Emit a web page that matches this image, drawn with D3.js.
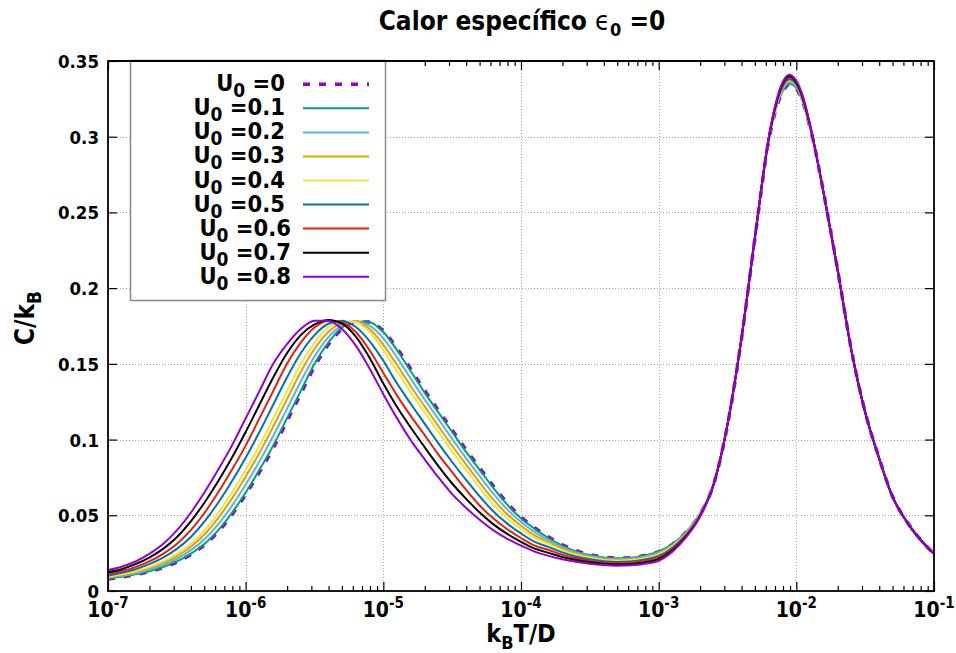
<!DOCTYPE html>
<html>
<head>
<meta charset="utf-8">
<script src="https://cdn.jsdelivr.net/npm/d3@7"></script>
<style>
  body { margin: 0; background: #fff; }
  svg { display: block; }
  text { font-family: "DejaVu Sans", sans-serif; font-weight: bold; fill: #000; }
</style>
</head>
<body>
<div id="chart"></div>
<script>
// log10(kB T / D) sampling grid
const log10T = [
  -7.0, -6.9, -6.8, -6.7, -6.6, -6.5, -6.4, -6.3, -6.2, -6.1,
  -6.0, -5.9, -5.8, -5.7, -5.6, -5.5, -5.4, -5.3, -5.2, -5.1,
  -5.0, -4.9, -4.8, -4.7, -4.6, -4.5, -4.4, -4.3, -4.2, -4.1,
  -4.0, -3.9, -3.8, -3.7, -3.6, -3.5, -3.4, -3.3, -3.2, -3.1,
  -3.0, -2.9, -2.8, -2.7, -2.6, -2.5, -2.4, -2.3, -2.2,
  -2.15, -2.1, -2.05, -2.0, -1.95, -1.9,
  -1.8, -1.7, -1.6, -1.5, -1.4, -1.3, -1.2, -1.1, -1.0
];

// C / kB for each U0
const cU00 = [
  0.0079, 0.0092, 0.0108, 0.0128, 0.0155, 0.0191, 0.0240, 0.0304, 0.0391, 0.0504,
  0.0637, 0.0785, 0.0944, 0.1122, 0.1302, 0.1482, 0.1626, 0.1730, 0.1776, 0.1776,
  0.1716, 0.1602, 0.1464, 0.1324, 0.1193, 0.1063, 0.0933, 0.0812, 0.0692, 0.0581,
  0.0489, 0.0417, 0.0356, 0.0305, 0.0266, 0.0240, 0.0224, 0.0217, 0.0220, 0.0234,
  0.0260, 0.0308, 0.0388, 0.0508, 0.0708, 0.1095, 0.1655, 0.2335, 0.2975,
  0.3175, 0.3295, 0.3345, 0.3318, 0.3222, 0.3062,
  0.2622, 0.2122, 0.1592, 0.1182, 0.0882, 0.0622, 0.0462, 0.0342, 0.0246
];
const cU01 = [
  0.0083, 0.0094, 0.0110, 0.0130, 0.0158, 0.0195, 0.0245, 0.0310, 0.0400, 0.0515,
  0.0650, 0.0800, 0.0960, 0.1140, 0.1320, 0.1500, 0.1640, 0.1740, 0.1780, 0.1775,
  0.1710, 0.1590, 0.1450, 0.1310, 0.1180, 0.1050, 0.0920, 0.0800, 0.0680, 0.0570,
  0.0480, 0.0410, 0.0350, 0.0300, 0.0262, 0.0238, 0.0222, 0.0216, 0.0220, 0.0235,
  0.0262, 0.0310, 0.0390, 0.0510, 0.0710, 0.1100, 0.1660, 0.2340, 0.2980,
  0.3180, 0.3300, 0.3350, 0.3320, 0.3220, 0.3060,
  0.2620, 0.2120, 0.1590, 0.1180, 0.0880, 0.0620, 0.0460, 0.0340, 0.0245
];
const cU02 = [
  0.0087, 0.0100, 0.0117, 0.0140, 0.0171, 0.0213, 0.0268, 0.0342, 0.0440, 0.0562,
  0.0703, 0.0856, 0.1023, 0.1203, 0.1383, 0.1549, 0.1675, 0.1754, 0.1778, 0.1752,
  0.1668, 0.1541, 0.1401, 0.1265, 0.1135, 0.1005, 0.0878, 0.0758, 0.0642, 0.0539,
  0.0456, 0.0389, 0.0336, 0.0289, 0.0254, 0.0231, 0.0216, 0.0210, 0.0214, 0.0228,
  0.0255, 0.0304, 0.0386, 0.0508, 0.0710, 0.1100, 0.1660, 0.2340, 0.2982,
  0.3185, 0.3310, 0.3360, 0.3330, 0.3225, 0.3060,
  0.2620, 0.2120, 0.1590, 0.1180, 0.0880, 0.0620, 0.0460, 0.0340, 0.0245
];
const cU03 = [
  0.0091, 0.0105, 0.0124, 0.0150, 0.0184, 0.0230, 0.0291, 0.0373, 0.0481, 0.0610,
  0.0755, 0.0912, 0.1086, 0.1266, 0.1446, 0.1598, 0.1710, 0.1768, 0.1782, 0.1730,
  0.1626, 0.1492, 0.1352, 0.1219, 0.1089, 0.0959, 0.0836, 0.0716, 0.0603, 0.0507,
  0.0431, 0.0368, 0.0323, 0.0279, 0.0246, 0.0225, 0.0210, 0.0205, 0.0209, 0.0222,
  0.0248, 0.0299, 0.0382, 0.0505, 0.0710, 0.1100, 0.1660, 0.2340, 0.2984,
  0.3190, 0.3320, 0.3370, 0.3335, 0.3230, 0.3065,
  0.2620, 0.2120, 0.1590, 0.1180, 0.0880, 0.0620, 0.0460, 0.0340, 0.0245
];
const cU04 = [
  0.0094, 0.0110, 0.0130, 0.0158, 0.0195, 0.0245, 0.0310, 0.0400, 0.0515, 0.0650,
  0.0800, 0.0960, 0.1140, 0.1320, 0.1500, 0.1640, 0.1740, 0.1780, 0.1775, 0.1710,
  0.1590, 0.1450, 0.1310, 0.1180, 0.1050, 0.0920, 0.0800, 0.0680, 0.0570, 0.0480,
  0.0410, 0.0350, 0.0311, 0.0270, 0.0239, 0.0219, 0.0205, 0.0200, 0.0204, 0.0217,
  0.0242, 0.0294, 0.0378, 0.0503, 0.0710, 0.1100, 0.1660, 0.2340, 0.2986,
  0.3190, 0.3325, 0.3375, 0.3340, 0.3235, 0.3065,
  0.2620, 0.2120, 0.1590, 0.1180, 0.0880, 0.0620, 0.0460, 0.0340, 0.0245
];
const cU05 = [
  0.0102, 0.0120, 0.0144, 0.0177, 0.0220, 0.0278, 0.0355, 0.0458, 0.0583, 0.0725,
  0.0880, 0.1050, 0.1230, 0.1410, 0.1570, 0.1690, 0.1765, 0.1785, 0.1743, 0.1650,
  0.1520, 0.1370, 0.1235, 0.1105, 0.0975, 0.0852, 0.0735, 0.0625, 0.0525, 0.0445,
  0.0380, 0.0325, 0.0291, 0.0255, 0.0228, 0.0209, 0.0197, 0.0192, 0.0195, 0.0208,
  0.0231, 0.0285, 0.0373, 0.0500, 0.0708, 0.1100, 0.1660, 0.2340, 0.2988,
  0.3200, 0.3330, 0.3380, 0.3345, 0.3240, 0.3070,
  0.2620, 0.2120, 0.1590, 0.1180, 0.0880, 0.0620, 0.0460, 0.0340, 0.0245
];
const cU06 = [
  0.0115, 0.0130, 0.0158, 0.0195, 0.0245, 0.0310, 0.0400, 0.0515, 0.0650, 0.0800,
  0.0960, 0.1140, 0.1320, 0.1500, 0.1640, 0.1740, 0.1785, 0.1775, 0.1710, 0.1590,
  0.1440, 0.1290, 0.1155, 0.1030, 0.0900, 0.0785, 0.0670, 0.0565, 0.0478, 0.0408,
  0.0350, 0.0300, 0.0271, 0.0240, 0.0216, 0.0199, 0.0188, 0.0183, 0.0187, 0.0198,
  0.0220, 0.0277, 0.0367, 0.0497, 0.0706, 0.1100, 0.1660, 0.2340, 0.2990,
  0.3205, 0.3340, 0.3390, 0.3355, 0.3245, 0.3070,
  0.2620, 0.2120, 0.1590, 0.1180, 0.0880, 0.0620, 0.0460, 0.0340, 0.0245
];
const cU07 = [
  0.0125, 0.0144, 0.0177, 0.0220, 0.0278, 0.0355, 0.0458, 0.0583, 0.0725, 0.0880,
  0.1050, 0.1230, 0.1410, 0.1570, 0.1690, 0.1760, 0.1790, 0.1765, 0.1680, 0.1540,
  0.1370, 0.1215, 0.1078, 0.0950, 0.0825, 0.0710, 0.0610, 0.0518, 0.0440, 0.0377,
  0.0325, 0.0280, 0.0252, 0.0225, 0.0205, 0.0190, 0.0180, 0.0175, 0.0179, 0.0189,
  0.0211, 0.0269, 0.0361, 0.0493, 0.0705, 0.1100, 0.1660, 0.2340, 0.2995,
  0.3210, 0.3350, 0.3400, 0.3360, 0.3250, 0.3075,
  0.2620, 0.2120, 0.1590, 0.1180, 0.0880, 0.0620, 0.0460, 0.0340, 0.0245
];
const cU08 = [
  0.0138, 0.0160, 0.0195, 0.0245, 0.0310, 0.0400, 0.0515, 0.0650, 0.0800, 0.0960,
  0.1140, 0.1320, 0.1500, 0.1630, 0.1730, 0.1785, 0.1785, 0.1730, 0.1620, 0.1470,
  0.1300, 0.1140, 0.0995, 0.0870, 0.0750, 0.0640, 0.0550, 0.0470, 0.0400, 0.0345,
  0.0300, 0.0260, 0.0232, 0.0210, 0.0193, 0.0180, 0.0171, 0.0167, 0.0170, 0.0180,
  0.0200, 0.0260, 0.0355, 0.0490, 0.0705, 0.1100, 0.1660, 0.2340, 0.3000,
  0.3220, 0.3360, 0.3410, 0.3370, 0.3260, 0.3080,
  0.2620, 0.2120, 0.1590, 0.1180, 0.0880, 0.0620, 0.0460, 0.0340, 0.0245
];

const u0Labels = ["0", "0.1", "0.2", "0.3", "0.4", "0.5", "0.6", "0.7", "0.8"];
const yTickValues = [0, 0.05, 0.1, 0.15, 0.2, 0.25, 0.3, 0.35];
const xDecades = [-7, -6, -5, -4, -3, -2, -1];

const seriesValues = [cU00, cU01, cU02, cU03, cU04, cU05, cU06, cU07, cU08];
const lineColors = ["#9400d3", "#009e73", "#56b4e9", "#e69f00", "#f0e442",
                    "#0072b2", "#e51e10", "#000000", "#9400d3"];

const WIDTH = 956;
const HEIGHT = 653;
const PLOT = { left: 108, right: 934, top: 61, bottom: 591 };
const SX = 0.9; // text in the original is a bit condensed

const svg = d3.select("#chart").append("svg")
  .attr("width", WIDTH)
  .attr("height", HEIGHT);

const x = d3.scaleLog().domain([1e-7, 1e-1]).range([PLOT.left, PLOT.right]);
const y = d3.scaleLinear().domain([0, 0.35]).range([PLOT.bottom, PLOT.top]);

// text with sub/superscripts: parts = [{t, size, dy, weight}]
function richText(parent, tx, ty, parts, anchor, rotate) {
  const t = parent.append("text")
    .attr("transform", `translate(${tx},${ty})${rotate ? " rotate(-90)" : ""} scale(${SX},1)`)
    .attr("text-anchor", anchor || "start");
  parts.forEach(p => {
    const s = t.append("tspan").text(p.t).attr("font-size", p.size);
    if (p.dy) s.attr("dy", p.dy);
    if (p.weight) s.attr("font-weight", p.weight);
  });
  return t;
}

// grid
const grid = svg.append("g")
  .attr("stroke", "#a8a8a8")
  .attr("stroke-width", 1)
  .attr("stroke-dasharray", "1,2");
grid.selectAll(".gx")
  .data(xDecades.slice(1, -1))
  .join("line")
  .attr("x1", d => Math.round(x(Math.pow(10, d))) + 0.5)
  .attr("x2", d => Math.round(x(Math.pow(10, d))) + 0.5)
  .attr("y1", PLOT.top)
  .attr("y2", PLOT.bottom);
grid.selectAll(".gy")
  .data(yTickValues.slice(1, -1))
  .join("line")
  .attr("x1", PLOT.left)
  .attr("x2", PLOT.right)
  .attr("y1", d => Math.round(y(d)) + 0.5)
  .attr("y2", d => Math.round(y(d)) + 0.5);

// curves
svg.append("clipPath").attr("id", "clip")
  .append("rect")
  .attr("x", PLOT.left).attr("y", PLOT.top)
  .attr("width", PLOT.right - PLOT.left)
  .attr("height", PLOT.bottom - PLOT.top);

const line = d3.line()
  .x(d => x(Math.pow(10, d[0])))
  .y(d => y(d[1]))
  .curve(d3.curveMonotoneX);

const curves = svg.append("g").attr("clip-path", "url(#clip)");
seriesValues.forEach((vals, i) => {
  const pts = log10T.map((u, j) => [u, vals[j]]);
  curves.append("path")
    .attr("d", line(pts))
    .attr("fill", "none")
    .attr("stroke", lineColors[i])
    .attr("stroke-width", i === 0 ? 3.5 : 2)
    .attr("stroke-dasharray", i === 0 ? "7,9" : null)
    .attr("stroke-linejoin", "round");
});

// ticks on all four sides, pointing inward
const majors = xDecades.map(d => Math.pow(10, d));
const minors = [];
xDecades.slice(0, -1).forEach(d => {
  for (let k = 2; k <= 9; k++) minors.push(k * Math.pow(10, d));
});

function tickAxis(axis, tr) {
  svg.append("g")
    .attr("transform", tr)
    .call(axis)
    .call(g => g.select(".domain").remove())
    .call(g => g.selectAll("line").attr("stroke", "#000").attr("stroke-width", 1.2));
}
tickAxis(d3.axisBottom(x).tickValues(majors).tickSize(-9).tickFormat(""), `translate(0,${PLOT.bottom})`);
tickAxis(d3.axisBottom(x).tickValues(minors).tickSize(-5).tickFormat(""), `translate(0,${PLOT.bottom})`);
tickAxis(d3.axisTop(x).tickValues(majors).tickSize(-9).tickFormat(""), `translate(0,${PLOT.top})`);
tickAxis(d3.axisTop(x).tickValues(minors).tickSize(-5).tickFormat(""), `translate(0,${PLOT.top})`);
tickAxis(d3.axisLeft(y).tickValues(yTickValues).tickSize(-9).tickFormat(""), `translate(${PLOT.left},0)`);
tickAxis(d3.axisRight(y).tickValues(yTickValues).tickSize(-9).tickFormat(""), `translate(${PLOT.right},0)`);

// plot frame
svg.append("rect")
  .attr("x", PLOT.left).attr("y", PLOT.top)
  .attr("width", PLOT.right - PLOT.left)
  .attr("height", PLOT.bottom - PLOT.top)
  .attr("fill", "none")
  .attr("stroke", "#000")
  .attr("stroke-width", 1.8);

// tick labels
const yFmt = d => String(+d.toFixed(2));
yTickValues.forEach(v => {
  richText(svg, 99, y(v) + 7, [{ t: yFmt(v), size: 18.5 }], "end");
});
xDecades.forEach(d => {
  richText(svg, x(Math.pow(10, d)), 617, [
    { t: "10", size: 21 },
    { t: `-${Math.abs(d)}`, size: 15, dy: -9 }
  ], "middle");
});

// axis titles and chart title
richText(svg, 521, 642, [
  { t: "k", size: 25 },
  { t: "B", size: 18, dy: 7 },
  { t: "T/D", size: 25, dy: -7 }
], "middle");
richText(svg, 34, 318, [
  { t: "C/k", size: 26 },
  { t: "B", size: 19, dy: 7 }
], "middle", true);
richText(svg, 522, 30, [
  { t: "Calor específico ", size: 26 },
  { t: "\u03f5", size: 27, weight: "normal" },
  { t: "0", size: 18, dy: 6 },
  { t: " =0", size: 26, dy: -6 }
], "middle");

// legend
const legend = svg.append("g");
legend.append("rect")
  .attr("x", 130.5).attr("y", 60.5)
  .attr("width", 255).attr("height", 240)
  .attr("fill", "#fff")
  .attr("stroke", "#888")
  .attr("stroke-width", 1.5);

u0Labels.forEach((lab, i) => {
  const ry = 84.3 + i * 24.05;
  richText(legend, i < 6 ? 285 : 291, ry + 7, [
    { t: "U", size: 23.5 },
    { t: "0", size: 19, dy: 6 },
    { t: " =" + lab, size: 23.5, dy: -6 }
  ], "end");
  legend.append("line")
    .attr("x1", 303).attr("x2", 369)
    .attr("y1", ry).attr("y2", ry)
    .attr("stroke", lineColors[i])
    .attr("stroke-width", i === 0 ? 3.5 : 2)
    .attr("stroke-dasharray", i === 0 ? "7,9" : null);
});

// redraw top frame edge over legend box
svg.append("line")
  .attr("x1", PLOT.left).attr("x2", PLOT.right)
  .attr("y1", PLOT.top).attr("y2", PLOT.top)
  .attr("stroke", "#000").attr("stroke-width", 1.8);
</script>
</body>
</html>
